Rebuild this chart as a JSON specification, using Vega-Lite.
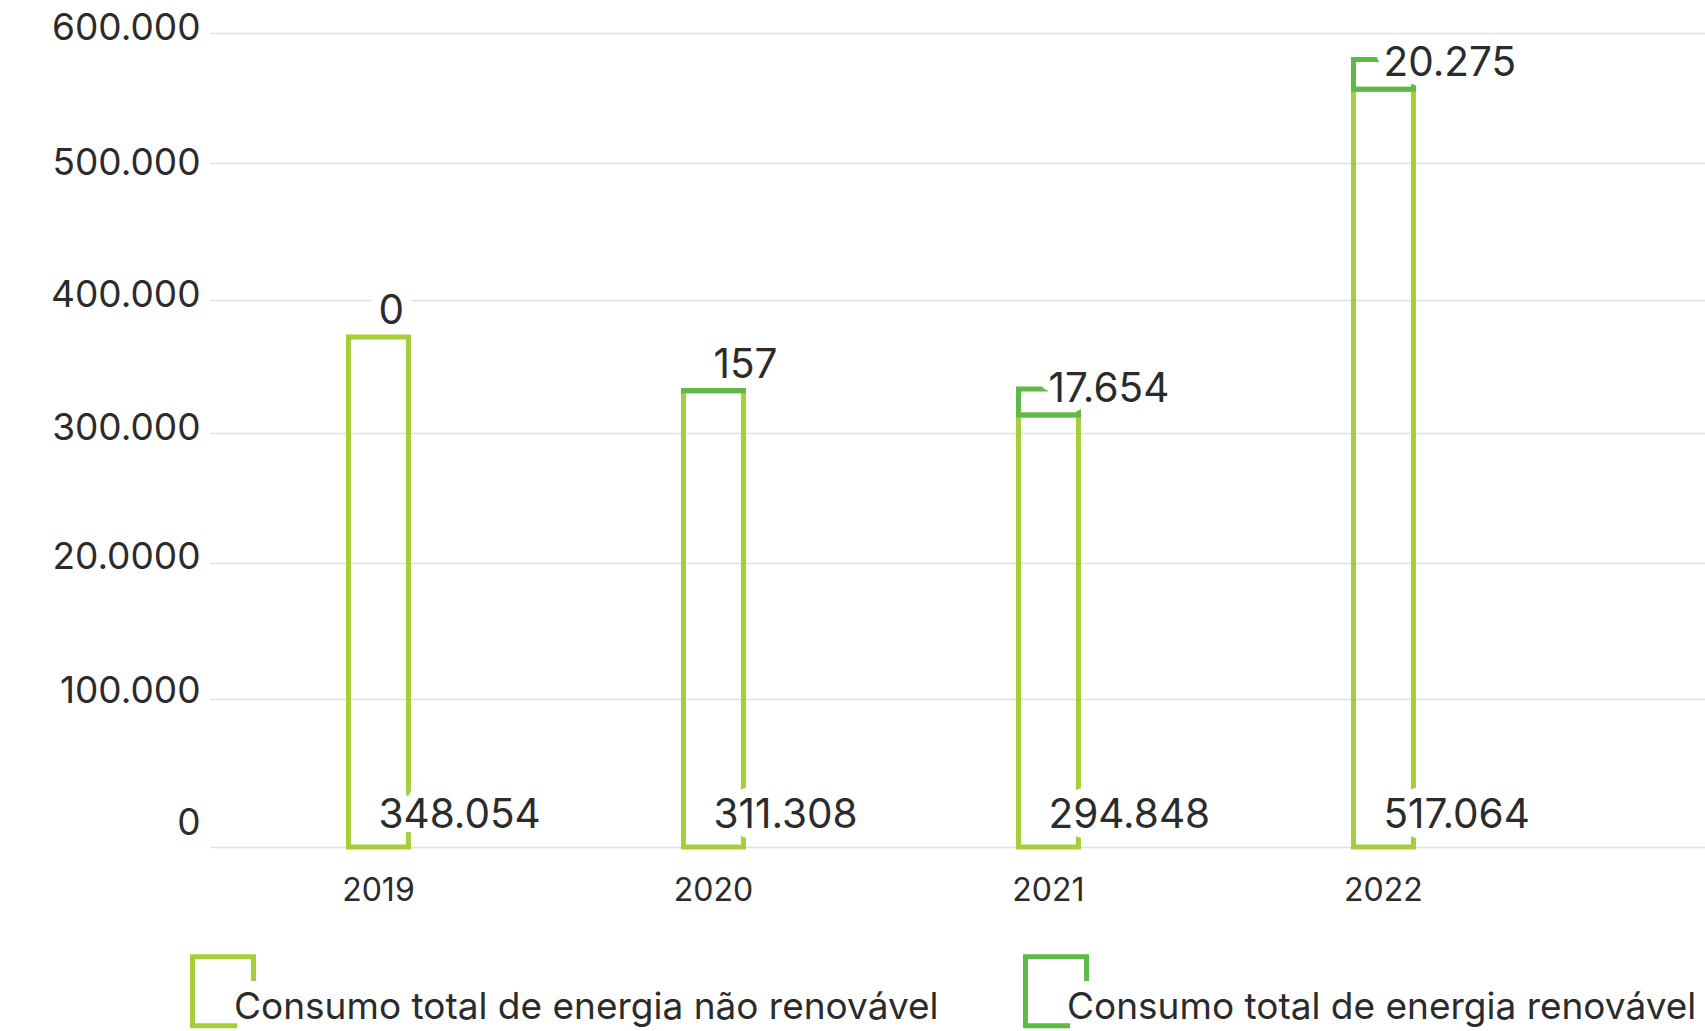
{
  "$schema": "https://vega.github.io/schema/vega-lite/v6.json",
  "autosize": {"type": "none"},
  "padding": {"left": 210, "top": 33, "right": 0, "bottom": 184},
  "width": 1495,
  "height": 814,
  "background": "white",
  "data": {
    "values": [
      {"ano": "2019", "nao_renovavel": 348054, "renovavel": 0},
      {"ano": "2020", "nao_renovavel": 311308, "renovavel": 157},
      {"ano": "2021", "nao_renovavel": 294848, "renovavel": 17654},
      {"ano": "2022", "nao_renovavel": 517064, "renovavel": 20275}
    ]
  },
  "encoding": {
    "x": {
      "field": "ano",
      "type": "ordinal",
      "scale": {"paddingInner": 0.821, "paddingOuter": 0.6418, "align": 0.322},
      "axis": {
        "title": null,
        "domain": false,
        "ticks": false,
        "labelAngle": 0,
        "labelFont": "Inter",
        "labelFontSize": 32,
        "labelColor": "#2b2b2b",
        "labelPadding": 28
      }
    }
  },
  "layer": [
    {
      "transform": [
        {"fold": ["nao_renovavel", "renovavel"], "as": ["tipo", "valor"]},
        {"filter": "datum.valor > 0"}
      ],
      "mark": {"type": "bar", "filled": false, "strokeWidth": 5},
      "encoding": {
        "y": {
          "field": "valor",
          "type": "quantitative",
          "stack": "zero",
          "scale": {"domain": [0, 555500], "nice": false, "zero": true},
          "axis": {
            "title": null,
            "domain": false,
            "ticks": false,
            "values": [0, 100790, 194010, 282300, 373270, 466560, 555500],
            "labelExpr": "datum.value == 0 ? '0' : datum.value < 150000 ? '100.000' : datum.value < 250000 ? '20.0000' : datum.value < 330000 ? '300.000' : datum.value < 420000 ? '400.000' : datum.value < 500000 ? '500.000' : '600.000'",
            "labelFont": "Inter",
            "labelFontSize": 37,
            "labelColor": "#2b2b2b",
            "labelPadding": 10,
            "labelOffset": {
              "condition": [
                {"test": "datum.value == 0", "value": -24},
                {"test": "datum.value > 90000 && datum.value < 110000", "value": -8},
                {"test": "datum.value > 460000 && datum.value < 470000", "value": 0}
              ],
              "value": -5
            },
            "gridColor": "#e0e0e0",
            "gridWidth": 1.5
          }
        },
        "color": {
          "field": "tipo",
          "type": "nominal",
          "scale": {"domain": ["nao_renovavel", "renovavel"], "range": ["#a6ce39", "#5dba46"]},
          "legend": {
            "title": null,
            "orient": "none",
            "direction": "horizontal",
            "legendX": -40.5,
            "legendY": 921,
            "padding": 0,
            "columnPadding": 63,
            "symbolType": "M0.6,-0.525 L0.6,-1 L-0.6,-1 L-0.6,0.356 L0.276,0.356",
            "symbolSize": 10363,
            "symbolStrokeWidth": 5,
            "symbolFillColor": "transparent",
            "labelOffset": -42.5,
            "labelFont": "Inter",
            "labelFontSize": 37,
            "labelColor": "#2b2b2b",
            "labelLimit": 2000,
            "labelExpr": "datum.value == 'nao_renovavel' ? 'Consumo total de energia não renovável' : 'Consumo total de energia renovável'"
          }
        },
        "order": {"field": "tipo", "type": "ordinal", "sort": "ascending"}
      }
    },
    {
      "mark": {"type": "text", "align": "left", "baseline": "alphabetic", "dy": -13, "font": "Inter", "fontSize": 40.5, "fill": "white", "stroke": "white", "strokeWidth": 20, "strokeJoin": "round"},
      "encoding": {
        "y": {"field": "nao_renovavel", "type": "quantitative"},
        "text": {"field": "renovavel", "type": "quantitative", "format": ",d"}
      }
    },
    {
      "mark": {"type": "text", "align": "left", "baseline": "alphabetic", "dy": -13, "font": "Inter", "fontSize": 40.5, "fill": "#2b2b2b"},
      "encoding": {
        "y": {"field": "nao_renovavel", "type": "quantitative"},
        "text": {"field": "renovavel", "type": "quantitative", "format": ",d"}
      }
    },
    {
      "mark": {"type": "text", "align": "left", "baseline": "alphabetic", "dy": -19, "font": "Inter", "fontSize": 40.5, "fill": "white", "stroke": "white", "strokeWidth": 20, "strokeJoin": "round"},
      "encoding": {
        "y": {"datum": 0, "type": "quantitative"},
        "text": {"field": "nao_renovavel", "type": "quantitative", "format": ",d"}
      }
    },
    {
      "mark": {"type": "text", "align": "left", "baseline": "alphabetic", "dy": -19, "font": "Inter", "fontSize": 40.5, "fill": "#2b2b2b"},
      "encoding": {
        "y": {"datum": 0, "type": "quantitative"},
        "text": {"field": "nao_renovavel", "type": "quantitative", "format": ",d"}
      }
    }
  ],
  "config": {
    "view": {"stroke": null},
    "locale": {"number": {"decimal": ",", "thousands": ".", "grouping": [3], "currency": ["", ""]}}
  }
}
